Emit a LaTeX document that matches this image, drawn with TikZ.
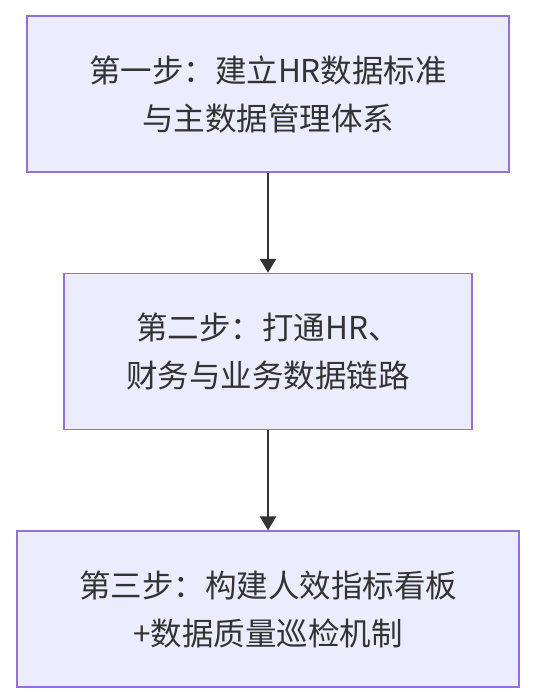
\documentclass[tikz,border=0pt]{standalone}
\usepackage{fontspec}
\setmainfont{Noto Sans CJK SC}
\usepackage{tikz}
\usetikzlibrary{positioning,arrows.meta}
\usepackage{xcolor}
\definecolor{boxfill}{HTML}{ECECFF}
\definecolor{boxline}{HTML}{9370DB}
\definecolor{inkgray}{HTML}{333333}

\begin{document}
\begin{tikzpicture}[
    x=1pt, y=1pt,
    node distance=100pt,
    stepbox/.style={rectangle, minimum height=156pt, inner xsep=62pt, text centered, draw=boxline, fill=boxfill, line width=1.6pt, text=inkgray, font=\fontsize{31.5}{48}\selectfont, align=center},
    arrow/.style={draw=inkgray, line width=2pt, -{Triangle[width=16pt,length=14pt]}}
]
\useasboundingbox (0,0) rectangle (536,-700);

% 第一步
\node (stepone) [stepbox] at (268,-94) {第一步：建立HR数据标准\\与主数据管理体系};

% 第二步
\node (steptwo) [stepbox, below=of stepone] {第二步：打通HR、\\财务与业务数据链路};

% 第三步
\node (stepthree) [stepbox, below=of steptwo] {第三步：构建人效指标看板\\+数据质量巡检机制};

% 箭头
\draw [arrow] (stepone) -- (steptwo);
\draw [arrow] (steptwo) -- (stepthree);

\end{tikzpicture}
\end{document}
